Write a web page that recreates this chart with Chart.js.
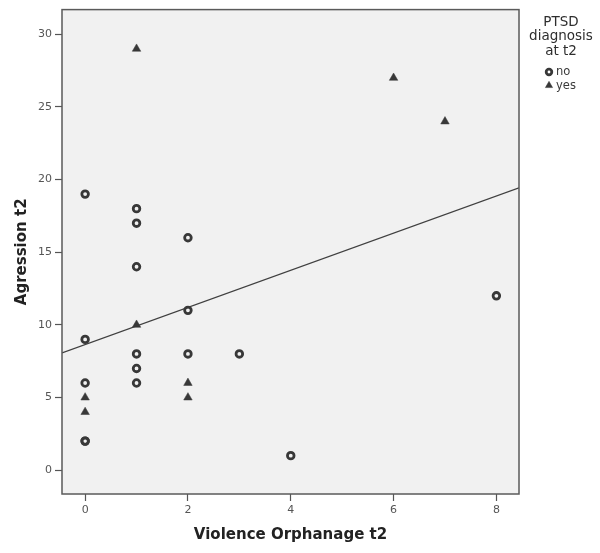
<!DOCTYPE html>
<html>
<head>
<meta charset="utf-8">
<script src="https://cdn.jsdelivr.net/npm/chart.js@4.4.1/dist/chart.umd.min.js"></script>
<style>
  html, body { margin: 0; padding: 0; background: #ffffff; }
  #wrap { width: 600px; height: 553px; position: relative; }
</style>
</head>
<body>
<div id="wrap"><canvas id="c" width="600" height="553"></canvas></div>
<script>
// ---- data ----
const noX  = [0, 0, 0, 0, 0, 1, 1, 1, 1, 1, 1, 2, 2, 2, 3, 4, 8];
const noY  = [19, 9, 6, 2, 2, 18, 17, 14, 8, 7, 6, 16, 11, 8, 8, 1, 12];
const yesX = [1, 0, 0, 1, 2, 2, 6, 7];
const yesY = [29, 5, 4, 10, 6, 5, 27, 24];
const fitX = [-0.45, 8.44];
const fitY = [8.07, 19.43];
const xTicks = [0, 2, 4, 6, 8];
const yTicks = [0, 5, 10, 15, 20, 25, 30];
const xTitle = 'Violence Orphanage t2';
const yTitle = 'Agression t2';
const legendTitle = ['PTSD', 'diagnosis', 'at t2'];
const legendLabels = ['no', 'yes'];

const FONT = '"DejaVu Sans", Verdana, sans-serif';
const MARK = '#383838';

function pts(xs, ys) { return xs.map((x, i) => ({ x: x, y: ys[i] })); }

const panelPlugin = {
  id: 'panel',
  beforeDraw(chart) {
    const { ctx, chartArea: a } = chart;
    ctx.save();
    ctx.fillStyle = '#f1f1f1';
    ctx.fillRect(a.left, a.top, a.right - a.left, a.bottom - a.top);
    ctx.restore();
  },
  afterDatasetsDraw(chart) {
    const { ctx, chartArea: a } = chart;
    ctx.save();
    ctx.strokeStyle = '#5a5a5a';
    ctx.lineWidth = 1.5;
    ctx.strokeRect(a.left, a.top, a.right - a.left, a.bottom - a.top);
    ctx.restore();
  }
};

const sideLegend = {
  id: 'sideLegend',
  afterDraw(chart) {
    const ctx = chart.ctx;
    const cx = 561;
    ctx.save();
    ctx.fillStyle = '#2e2e2e';
    ctx.textAlign = 'center';
    ctx.textBaseline = 'middle';
    ctx.font = '13.5px ' + FONT;
    legendTitle.forEach((t, i) => ctx.fillText(t, cx, 22 + i * 14.5));
    ctx.font = '11.5px ' + FONT;
    ctx.textAlign = 'left';
    const items = [chart.data.datasets[0], chart.data.datasets[1]];
    items.forEach((ds, i) => {
      const y = 72 + i * 13.5;
      ctx.fillStyle = ds.backgroundColor;
      ctx.strokeStyle = ds.borderColor;
      ctx.lineWidth = ds.borderWidth;
      Chart.helpers.drawPoint(ctx, { pointStyle: ds.pointStyle, radius: ds.pointRadius * 0.85, borderWidth: ds.borderWidth, rotation: 0 }, 549, y);
      ctx.fillStyle = '#3a3a3a';
      ctx.fillText(legendLabels[i], 556, y + 0.5);
    });
    ctx.restore();
  }
};

new Chart(document.getElementById('c'), {
  type: 'scatter',
  data: {
    datasets: [
      {
        label: legendLabels[0],
        data: pts(noX, noY),
        pointStyle: 'circle',
        pointRadius: 3.3,
        pointHoverRadius: 3.3,
        borderWidth: 2.8,
        borderColor: MARK,
        backgroundColor: 'rgba(0,0,0,0)'
      },
      {
        label: legendLabels[1],
        data: pts(yesX, yesY),
        pointStyle: 'triangle',
        pointRadius: 4.9,
        pointHoverRadius: 4.9,
        borderWidth: 0.5,
        borderColor: MARK,
        backgroundColor: MARK
      },
      {
        label: 'fit',
        type: 'line',
        data: pts(fitX, fitY),
        borderColor: '#404040',
        borderWidth: 1.4,
        pointRadius: 0,
        fill: false
      }
    ]
  },
  options: {
    responsive: false,
    animation: false,
    events: [],
    layout: { padding: { left: 0, top: 5, right: 81, bottom: 0 } },
    plugins: { legend: { display: false }, tooltip: { enabled: false } },
    scales: {
      x: {
        type: 'linear',
        min: -0.45, max: 8.44,
        afterFit(s) { s.height = 59; },
        afterBuildTicks(s) { s.ticks = xTicks.map(v => ({ value: v })); },
        grid: { display: true, drawOnChartArea: false, drawTicks: true, tickLength: 7, tickColor: '#555', tickWidth: 1.2 },
        border: { display: false },
        ticks: { color: '#555', font: { family: FONT, size: 11 }, padding: 3, maxRotation: 0 },
        title: { display: true, text: xTitle, color: '#222', font: { family: FONT, size: 15, weight: 'bold', lineHeight: 1.2 }, padding: { top: 0, bottom: 9 } }
      },
      y: {
        type: 'linear',
        min: -1.64, max: 31.7,
        afterFit(s) { s.width = 62; },
        afterBuildTicks(s) { s.ticks = yTicks.map(v => ({ value: v })); },
        grid: { display: true, drawOnChartArea: false, drawTicks: true, tickLength: 7, tickColor: '#555', tickWidth: 1.2 },
        border: { display: false },
        ticks: { color: '#555', font: { family: FONT, size: 11 }, padding: 3 },
        title: { display: true, text: yTitle, color: '#222', font: { family: FONT, size: 15, weight: 'bold', lineHeight: 1.2 }, padding: { top: 13, bottom: 0 } }
      }
    }
  },
  plugins: [panelPlugin, sideLegend]
});
</script>
</body>
</html>
